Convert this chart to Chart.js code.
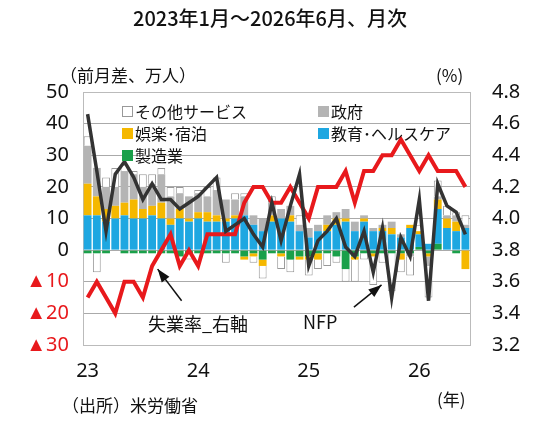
<!DOCTYPE html>
<html>
<head>
<meta charset="utf-8">
<script src="https://cdn.jsdelivr.net/npm/chart.js@4"></script>
<style>
  body { margin: 0; background: #fff; font-family: "Noto Sans CJK JP", sans-serif; }
  #wrap { position: relative; width: 540px; height: 423px; }
  .t { position: absolute; white-space: nowrap; color: #111; }
  .sq { display: inline-block; width: 11px; height: 11px; margin-right: 2px; vertical-align: 1px; }
</style>
</head>
<body>
<div id="wrap">
  <canvas id="jobs" width="540" height="423"></canvas>
  <div class="t" style="left:0;width:540px;text-align:center;top:3px;font-size:20px;font-weight:500;">2023年1月～2026年6月、月次</div>
  <div class="t" style="left:60px;top:62px;font-size:17px;">（前月差、万人）</div>
  <div class="t" style="left:436px;top:62px;font-size:17px;">(%)</div>
  <div class="t" style="left:122px;top:99px;font-size:16px;"><span class="sq" style="background:#fff;border:1px solid #999;width:9px;height:9px"></span>その他サービス</div>
  <div class="t" style="left:318px;top:99px;font-size:16px;"><span class="sq" style="background:#b4b4b4"></span>政府</div>
  <div class="t" style="left:122px;top:121px;font-size:16px;"><span class="sq" style="background:#f5b800"></span>娯楽･宿泊</div>
  <div class="t" style="left:318px;top:121px;font-size:16px;"><span class="sq" style="background:#1ea7e1"></span>教育･ヘルスケア</div>
  <div class="t" style="left:122px;top:143px;font-size:16px;"><span class="sq" style="background:#1aa04a"></span>製造業</div>
  <div class="t" style="left:148px;top:310px;font-size:18px;">失業率_右軸</div>
  <div class="t" style="left:303px;top:308px;font-size:18px;">NFP</div>
  <div class="t" style="left:62px;top:392px;font-size:17px;">（出所）米労働省</div>
  <div class="t" style="left:437px;top:386px;font-size:17px;">(年)</div>
</div>
<script>
const months = [];
for (let y = 2023; y <= 2026; y++) {
  for (let m = 1; m <= 12; m++) {
    if (y === 2026 && m > 6) break;
    months.push(y + "-" + m);
  }
}

// NFP and components, 万人 (month over month)
const nfp = [43,25,6,24,28,23,16,21,16,16,13,15, 17,20,23,6,8,10,5,1,15,3,14,24,
  -5,3,6,10,1,-2,6,-7,7,-15,4,-2, 16,-16,21,14,12,5];
const eduHealth = [11,11,9,10,11,10,10,11,10,8,10,9, 10,9,9,9,10,11,8,6,9,10,9,6,
  4,6,6,8,9,6,9,6,6,5,4,7, 4,2,11,7,6,7];
const leisure = [10,6,4,4,4,6,3,3,5,2,3,1, 2,3,2,1,1,-1,-1,-2,2,-1,2,-1,
  -1,-2,2,2,1,-1,1,-1,1,2,-2,1, 1,-1,3,3,3,-6];
const government = [12,9,7,6,10,8,7,7,9,7,5,7, 6,5,8,6,5,6,3,4,4,3,3,2,
  3,2,3,2,3,3,1,1,1,2,1,-1, 0,-3,1,1,2,1];
const manufacturing = [-1,-1,-1,0,-1,-1,-1,-1,-1,-1,-2,-1, -1,-1,-1,-1,-1,-2,-1,-3,-1,-1,-3,-2,
  -2,-1,-1,-2,-6,-2,-1,-1,-1,-1,-1,-1, 1,-1,2,0,-1,0];
const otherServices = [3,-6,3,6,2,1,4,3,2,3,2,-2, 1,3,4,-3,2,1,-2,-4,2,-4,-4,3,
  -5,-3,-4,-2,-4,-7,-2,-9,-3,-12,-4,-6, 2,-10,5,3,1,3];
// unemployment rate, %
const unemployment = [3.5,3.6,3.5,3.4,3.6,3.6,3.5,3.7,3.8,3.9,3.7,3.8,
  3.7,3.9,3.9,3.9,3.9,4.1,4.2,4.2,4.1,4.1,4.2,4.1,
  4.0,4.2,4.2,4.2,4.3,4.1,4.3,4.3,4.4,4.4,4.5,4.4,
  4.3,4.4,4.3,4.3,4.3,4.2];

function bar(data, color, border) {
  return {
    type: "bar", data, backgroundColor: color, yAxisID: "y", stack: "s", order: 2,
    borderColor: border || color, borderWidth: border ? 1 : 0,
    barPercentage: 0.85, categoryPercentage: 1,
  };
}

// arrows for the two annotations, plus the top edge of the frame
const arrows = {
  id: "arrows",
  afterDatasetsDraw(chart) {
    const { ctx, scales, chartArea } = chart;
    ctx.save();
    ctx.strokeStyle = "#bbb"; ctx.lineWidth = 1;
    ctx.beginPath(); ctx.moveTo(chartArea.left, chartArea.top + 0.5); ctx.lineTo(chartArea.right, chartArea.top + 0.5); ctx.stroke();
    ctx.restore();
    const draw = (x1, y1, x2, y2) => {
      ctx.save();
      ctx.strokeStyle = "#111"; ctx.fillStyle = "#111"; ctx.lineWidth = 1.5;
      ctx.beginPath(); ctx.moveTo(x1, y1); ctx.lineTo(x2, y2); ctx.stroke();
      const a = Math.atan2(y2 - y1, x2 - x1);
      ctx.beginPath();
      ctx.moveTo(x2, y2);
      ctx.lineTo(x2 - 14 * Math.cos(a - 0.35), y2 - 14 * Math.sin(a - 0.35));
      ctx.lineTo(x2 - 14 * Math.cos(a + 0.35), y2 - 14 * Math.sin(a + 0.35));
      ctx.closePath(); ctx.fill();
      ctx.restore();
    };
    const x = scales.x, y = scales.y;
    draw(x.getPixelForValue(10.2), y.getPixelForValue(-16), x.getPixelForValue(7.6), y.getPixelForValue(-6));
    draw(x.getPixelForValue(28.9), y.getPixelForValue(-18), x.getPixelForValue(31.9), y.getPixelForValue(-11));
  },
};

new Chart("jobs", {
  data: {
    labels: months,
    datasets: [
      { type: "line", data: nfp, borderColor: "#333", borderWidth: 3.5, pointRadius: 0, tension: 0, yAxisID: "y", order: 0 },
      { type: "line", data: unemployment, borderColor: "#e8191c", borderWidth: 4, pointRadius: 0, tension: 0, yAxisID: "y2", order: 1 },
      bar(manufacturing, "#1aa04a"),
      bar(eduHealth, "#1ea7e1"),
      bar(leisure, "#f5b800"),
      bar(government, "#b4b4b4"),
      bar(otherServices, "#ffffff", "#999"),
    ],
  },
  options: {
    responsive: false,
    animation: false,
    layout: { padding: { top: 92, bottom: 40, left: 0, right: 0 } },
    plugins: { legend: { display: false }, tooltip: { enabled: false } },
    scales: {
      x: {
        stacked: true,
        grid: { display: false },
        border: { color: "#bbb" },
        ticks: {
          autoSkip: false, maxRotation: 0, padding: 6, color: "#111",
          font: { size: 20, family: "Noto Sans" },
          callback: (v, i) => (months[i].endsWith("-1") ? months[i].slice(2, 4) : ""),
        },
        afterFit: (s) => { s.height = 38; },
      },
      y: {
        stacked: true, min: -30, max: 50,
        grid: { color: "#aaa", borderDash: [4, 3], drawTicks: false },
        border: { color: "#bbb" },
        ticks: {
          stepSize: 10, padding: 14,
          font: { size: 20, family: "Noto Sans" },
          color: (c) => (c.tick.value < 0 ? "#e8191c" : "#111"),
          callback: (v) => (v < 0 ? "▲" + -v : v),
        },
        afterFit: (s) => { s.width = 83; },
      },
      y2: {
        position: "right", min: 3.2, max: 4.8,
        grid: { display: false },
        border: { color: "#bbb" },
        ticks: {
          stepSize: 0.2, padding: 14, color: "#111",
          font: { size: 20, family: "Noto Sans" },
          callback: (v) => v.toFixed(1),
        },
        afterFit: (s) => { s.width = 70; },
      },
    },
  },
  plugins: [arrows],
});
</script>
</body>
</html>
